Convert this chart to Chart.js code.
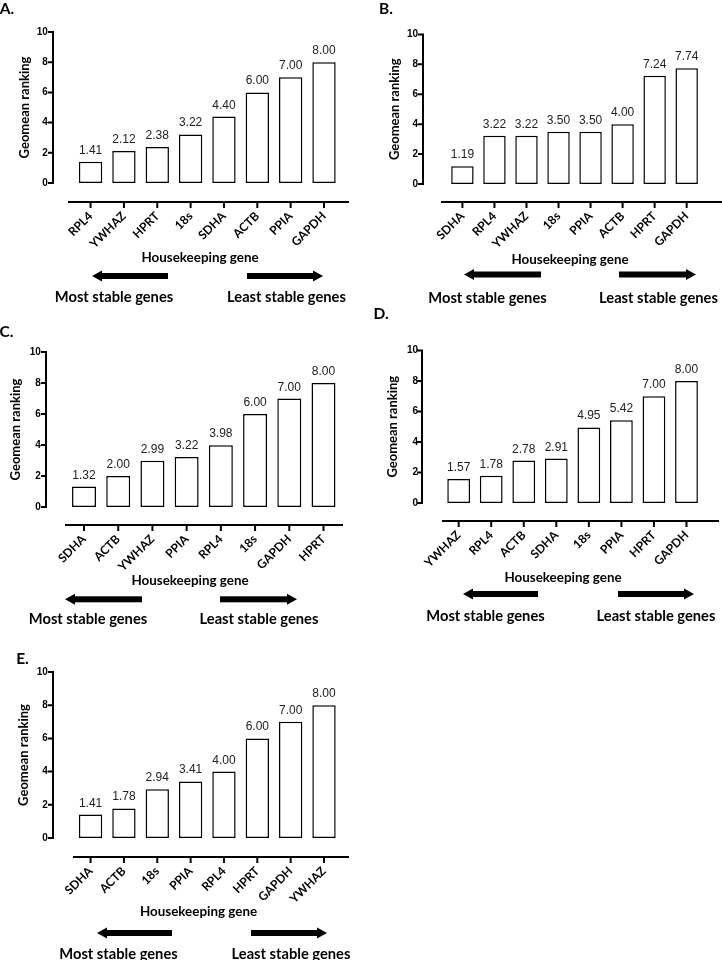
<!DOCTYPE html>
<html>
<head>
<meta charset="utf-8">
<script src="https://cdn.jsdelivr.net/npm/chart.js@4.4.0/dist/chart.umd.min.js"></script>
<style>
  body { margin: 0; background: #fff; }
  #page { position: relative; width: 722px; height: 960px; overflow: hidden; }
  .panel { position: absolute; }
  .txt { position: absolute; font-family: Lato, sans-serif; font-weight: bold; color: #000;
         line-height: 1; white-space: nowrap; transform: translate(-50%, -50%); }
</style>
</head>
<body>
<div id="page"></div>
<script>
// data
const genesA = ["RPL4", "YWHAZ", "HPRT", "18s", "SDHA", "ACTB", "PPIA", "GAPDH"];
const valuesA = [1.41, 2.12, 2.38, 3.22, 4.40, 6.00, 7.00, 8.00];
const genesB = ["SDHA", "RPL4", "YWHAZ", "18s", "PPIA", "ACTB", "HPRT", "GAPDH"];
const valuesB = [1.19, 3.22, 3.22, 3.50, 3.50, 4.00, 7.24, 7.74];
const genesC = ["SDHA", "ACTB", "YWHAZ", "PPIA", "RPL4", "18s", "GAPDH", "HPRT"];
const valuesC = [1.32, 2.00, 2.99, 3.22, 3.98, 6.00, 7.00, 8.00];
const genesD = ["YWHAZ", "RPL4", "ACTB", "SDHA", "18s", "PPIA", "HPRT", "GAPDH"];
const valuesD = [1.57, 1.78, 2.78, 2.91, 4.95, 5.42, 7.00, 8.00];
const genesE = ["SDHA", "ACTB", "18s", "PPIA", "RPL4", "HPRT", "GAPDH", "YWHAZ"];
const valuesE = [1.41, 1.78, 2.94, 3.41, 4.00, 6.00, 7.00, 8.00];
const yMin = 0, yMax = 10, yStep = 2;

const yTitle = "Geomean ranking";
const xTitle = "Housekeeping gene";
const leftCaption = "Most stable genes";
const rightCaption = "Least stable genes";

// layout of each panel (local pixel coords inside its canvas)
const panels = [
  { letter: "A.", genes: genesA, values: valuesA, left: 0, top: 0, w: 361, h: 320,
    area: { l: 73.9, r: 348.1, t: 8, b: 183 }, yAxisX: 53, tickPad: 26, titleX: 25,
    xLineY: 202, xLine: [68, 349], arrowY: 276, arrows: [[168, 92], [247, 323]],
    letterPos: [7, 9], xTitlePos: [200, 258], capY: 296, capX: [114, 286.5] },
  { letter: "B.", genes: genesB, values: valuesB, left: 361, top: 0, w: 361, h: 320,
    area: { l: 85.4, r: 358.6, t: 8, b: 184 }, yAxisX: 62, tickPad: 28.4, titleX: 34,
    xLineY: 202, xLine: [80, 361], arrowY: 274.5, arrows: [[180, 103], [258, 335]],
    letterPos: [25, 9], xTitlePos: [209, 260], capY: 297, capX: [126.5, 297.5] },
  { letter: "C.", genes: genesC, values: valuesC, left: 0, top: 320, w: 361, h: 320,
    area: { l: 66.9, r: 340.6, t: 10, b: 187 }, yAxisX: 46, tickPad: 26, titleX: 16,
    xLineY: 205, xLine: [65, 343], arrowY: 279.3, arrows: [[142, 65], [220, 297]],
    letterPos: [6.5, 12], xTitlePos: [190, 261], capY: 298, capX: [88, 259] },
  { letter: "D.", genes: genesD, values: valuesD, left: 361, top: 320, w: 361, h: 320,
    area: { l: 81.4, r: 355.6, t: 7, b: 183 }, yAxisX: 61, tickPad: 24.4, titleX: 32,
    xLineY: 201, xLine: [81, 358], arrowY: 274, arrows: [[177, 102], [257, 333]],
    letterPos: [20, -6.5], xTitlePos: [202, 258], capY: 295, capX: [124.5, 295] },
  { letter: "E.", genes: genesE, values: valuesE, left: 0, top: 640, w: 361, h: 320,
    area: { l: 73.9, r: 348.1, t: 22, b: 198 }, yAxisX: 53, tickPad: 26, titleX: 24,
    xLineY: 217, xLine: [73, 349], arrowY: 293, arrows: [[172, 97], [251, 327]],
    letterPos: [22.5, 18.5], xTitlePos: [198.5, 272], capY: 313, capX: [118.5, 291] }
];

function drawArrow(ctx, tail, tip, y) {
  const dir = tip > tail ? 1 : -1;
  const head = 10;
  const base = tip - dir * head;
  ctx.fillRect(Math.min(tail, base), y - 3, Math.abs(base - tail), 6);
  ctx.beginPath();
  ctx.moveTo(tip, y);
  ctx.lineTo(base, y - 5.5);
  ctx.lineTo(base, y + 5.5);
  ctx.closePath();
  ctx.fill();
}

// Prism style axes, value labels and arrows
const prismAxes = {
  id: "prismAxes",
  afterDraw(chart, args, opts) {
    const ctx = chart.ctx;
    const xs = chart.scales.x, ys = chart.scales.y;
    ctx.save();
    ctx.strokeStyle = "#000";
    ctx.lineWidth = 2;
    ctx.beginPath();
    ctx.moveTo(opts.yAxisX, ys.getPixelForValue(yMax) - 1);
    ctx.lineTo(opts.yAxisX, ys.getPixelForValue(yMin) + 1);
    ys.ticks.forEach(t => {
      const py = ys.getPixelForValue(t.value);
      ctx.moveTo(opts.yAxisX, py);
      ctx.lineTo(opts.yAxisX - 5, py);
    });
    ctx.moveTo(opts.xLine[0], opts.xLineY);
    ctx.lineTo(opts.xLine[1], opts.xLineY);
    xs.ticks.forEach((t, i) => {
      const px = xs.getPixelForTick(i);
      ctx.moveTo(px, opts.xLineY);
      ctx.lineTo(px, opts.xLineY + 6);
    });
    ctx.stroke();

    const meta = chart.getDatasetMeta(0);
    const data = chart.data.datasets[0].data;
    ctx.fillStyle = "#222";
    ctx.font = "12px 'Liberation Sans', Arial, sans-serif";
    ctx.textAlign = "center";
    ctx.textBaseline = "alphabetic";
    meta.data.forEach((bar, i) => ctx.fillText(data[i].toFixed(2), bar.x, bar.y - 8));

    ctx.fillStyle = "#000";
    opts.arrows.forEach(a => drawArrow(ctx, a[0], a[1], opts.arrowY));
    ctx.restore();
  }
};

function addText(str, x, y, size) {
  const d = document.createElement("div");
  d.className = "txt";
  d.style.left = x + "px";
  d.style.top = y + "px";
  d.style.fontSize = size + "px";
  d.textContent = str;
  document.getElementById("page").appendChild(d);
}

panels.forEach(p => {
  const box = document.createElement("div");
  box.className = "panel";
  box.style.left = p.left + "px";
  box.style.top = p.top + "px";
  const cv = document.createElement("canvas");
  cv.width = p.w;
  cv.height = p.h;
  box.appendChild(cv);
  document.getElementById("page").appendChild(box);

  new Chart(cv, {
    type: "bar",
    data: {
      labels: p.genes,
      datasets: [{
        data: p.values,
        backgroundColor: "#fff",
        borderColor: "#000",
        borderWidth: 1.5,
        borderSkipped: false,
        categoryPercentage: 1,
        barPercentage: 0.7
      }]
    },
    options: {
      responsive: false,
      animation: false,
      layout: { padding: { left: 0, top: p.area.t, right: p.w - p.area.r, bottom: 0 } },
      plugins: {
        legend: { display: false },
        tooltip: { enabled: false },
        prismAxes: p
      },
      scales: {
        x: {
          grid: { display: false, drawTicks: false },
          border: { display: false },
          ticks: {
            minRotation: 45, maxRotation: 45, autoSkip: false,
            padding: p.xLineY + 7 - p.area.b,
            color: "#000",
            font: { family: "Lato", weight: "bold", size: 12 }
          },
          afterFit: s => { s.height = p.h - p.area.b; }
        },
        y: {
          min: yMin, max: yMax,
          grid: { display: false, drawTicks: false },
          border: { display: false },
          ticks: {
            stepSize: yStep, padding: p.tickPad, color: "#000",
            font: { family: "Liberation Sans", weight: "bold", size: 10 }
          },
          title: {
            display: true, text: yTitle, color: "#000",
            font: { family: "Lato", weight: "bold", size: 13 },
            padding: { top: p.titleX - 7.8, bottom: 0 }
          },
          afterFit: s => { s.width = p.area.l; }
        }
      }
    },
    plugins: [prismAxes]
  });

  addText(p.letter, p.left + p.letterPos[0], p.top + p.letterPos[1], 15.5);
  addText(xTitle, p.left + p.xTitlePos[0], p.top + p.xTitlePos[1], 13.4);
  addText(leftCaption, p.left + p.capX[0], p.top + p.capY, 14.7);
  addText(rightCaption, p.left + p.capX[1], p.top + p.capY, 14.7);
});
</script>
</body>
</html>
